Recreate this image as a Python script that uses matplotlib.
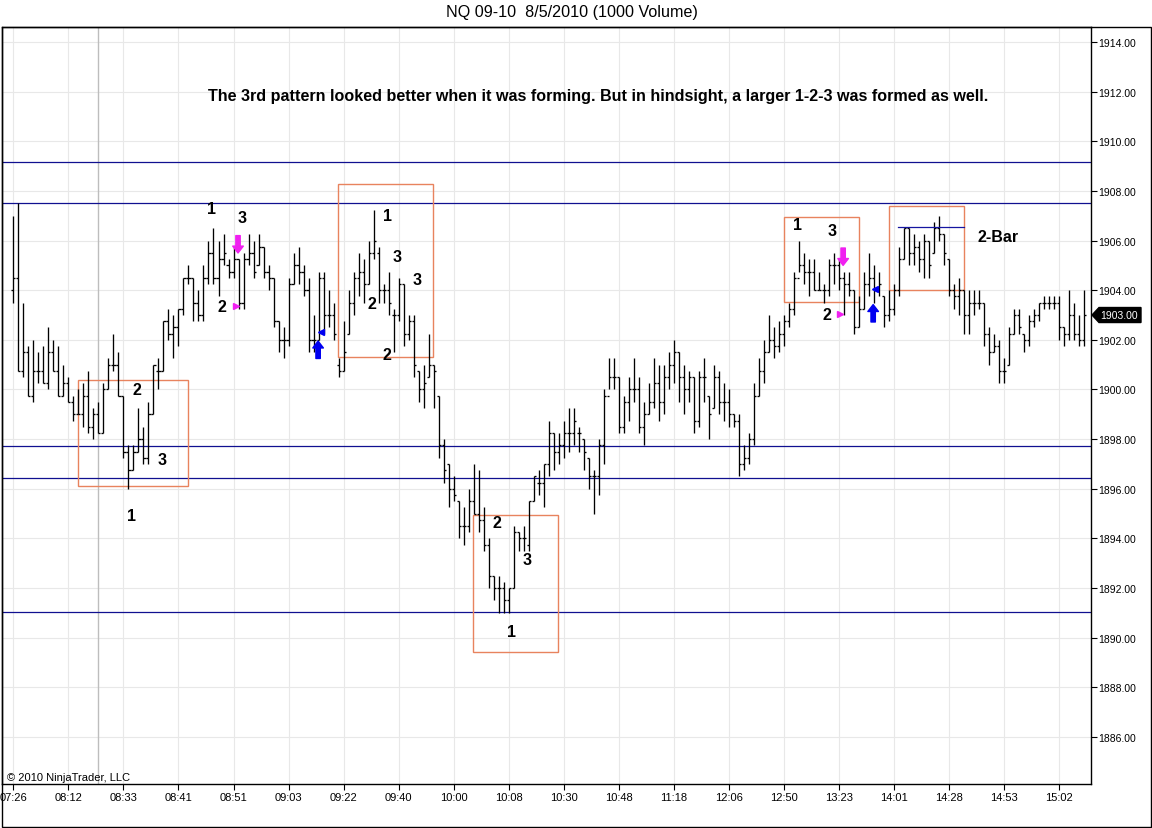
import matplotlib
matplotlib.use("Agg")
import matplotlib.pyplot as plt
from matplotlib.patches import Rectangle, Polygon

plt.rcParams['font.family'] = ['Liberation Sans', 'DejaVu Sans']

# ---------------- data ----------------
highs = [
    1907.0, 1907.5, 1903.5, 1901.75, 1902.0, 1901.5, 1901.75, 1902.5, 1902.0, 1901.75,
    1901.0, 1900.5, 1899.75, 1900.0, 1900.25, 1900.75, 1899.25, 1899.5, 1900.25, 1901.25,
    1902.25, 1901.5, 1899.75, 1897.75, 1897.75, 1899.25, 1898.5, 1899.5, 1901.0, 1901.25,
    1902.75, 1903.25, 1903.0, 1903.25, 1904.5, 1905.0, 1904.5, 1904.0, 1905.0, 1906.0,
    1906.5, 1906.0, 1906.25, 1905.25, 1905.75, 1905.25, 1905.5, 1906.25, 1906.0, 1906.25,
    1905.75, 1905.0, 1904.5, 1902.75, 1902.5, 1904.5, 1905.5, 1905.75, 1905.0, 1904.5,
    1903.0, 1904.75, 1904.75, 1904.0, 1903.5, 1901.25, 1902.75, 1904.0, 1904.75, 1905.5,
    1905.25, 1906.0, 1907.25, 1905.75, 1904.25, 1904.75, 1903.25, 1904.5, 1904.25, 1903.0,
    1903.0, 1900.75, 1901.0, 1902.25, 1901.0, 1899.75, 1898.0, 1897.0, 1896.5, 1895.5,
    1895.25, 1896.0, 1897.0, 1896.75, 1895.25, 1894.0, 1892.5, 1892.5, 1892.25, 1892.0,
    1894.5, 1894.25, 1894.5, 1895.5, 1896.5, 1896.75, 1897.0, 1898.75, 1898.25, 1898.25,
    1898.75, 1899.25, 1899.25, 1898.5, 1898.0, 1897.25, 1896.75, 1898.0, 1900.0, 1901.25,
    1901.25, 1900.5, 1899.75, 1900.5, 1901.25, 1900.5, 1899.5, 1900.25, 1901.25, 1901.0,
    1901.0, 1901.5, 1902.0, 1901.5, 1901.0, 1900.75, 1900.5, 1900.75, 1901.25, 1899.75,
    1901.0, 1900.75, 1900.25, 1900.0, 1899.0, 1899.0, 1897.75, 1898.25, 1900.25, 1901.25,
    1902.0, 1903.0, 1902.5, 1902.75, 1903.0, 1903.5, 1904.75, 1906.0, 1905.5, 1905.25,
    1905.25, 1904.75, 1904.25, 1905.25, 1905.5, 1905.25, 1904.75, 1904.75, 1904.0, 1903.75,
    1904.75, 1905.5, 1905.0, 1904.75, 1903.75, 1904.0, 1904.25, 1905.75, 1906.5, 1906.5,
    1906.25, 1906.0, 1906.25, 1906.0, 1906.75, 1907.0, 1906.25, 1905.25, 1904.25, 1904.5,
    1904.0, 1904.0, 1904.0, 1904.0, 1903.5, 1902.5, 1902.25, 1902.0, 1901.25, 1902.5,
    1903.25, 1903.25, 1902.25, 1903.0, 1903.25, 1903.5, 1903.75, 1903.75, 1903.75, 1903.75,
    1902.5, 1904.0, 1903.5, 1903.0, 1904.0,
]
lows = [
    1903.5, 1900.75, 1900.5, 1899.75, 1899.5, 1900.25, 1900.25, 1900.0, 1900.75, 1899.75,
    1899.75, 1899.5, 1898.75, 1899.0, 1898.5, 1898.25, 1898.0, 1898.25, 1898.25, 1900.0,
    1900.75, 1899.75, 1897.25, 1896.0, 1896.75, 1897.5, 1897.0, 1897.0, 1899.0, 1900.0,
    1900.75, 1902.0, 1901.25, 1901.75, 1903.0, 1904.25, 1902.75, 1902.75, 1902.75, 1904.25,
    1904.25, 1903.75, 1905.0, 1904.5, 1904.5, 1903.25, 1903.25, 1905.0, 1904.5, 1905.0,
    1904.5, 1904.0, 1902.5, 1901.5, 1901.25, 1901.75, 1904.25, 1904.25, 1903.75, 1901.5,
    1901.5, 1902.0, 1902.25, 1902.5, 1902.0, 1900.5, 1900.75, 1902.25, 1903.0, 1903.75,
    1903.5, 1904.25, 1905.25, 1903.5, 1903.5, 1903.0, 1901.5, 1902.75, 1901.75, 1902.0,
    1900.5, 1899.5, 1899.25, 1900.5, 1899.25, 1897.25, 1896.25, 1895.25, 1895.5, 1894.0,
    1893.75, 1894.25, 1895.0, 1894.25, 1893.5, 1892.0, 1891.5, 1891.0, 1891.0, 1891.0,
    1892.0, 1893.5, 1893.5, 1893.5, 1895.5, 1895.75, 1895.25, 1896.5, 1896.75, 1897.0,
    1897.25, 1897.5, 1897.75, 1897.5, 1896.75, 1896.0, 1895.0, 1895.75, 1897.0, 1900.0,
    1900.0, 1898.25, 1898.25, 1898.75, 1899.5, 1898.25, 1897.75, 1899.0, 1899.25, 1898.75,
    1899.0, 1900.0, 1900.25, 1899.5, 1899.0, 1899.5, 1898.25, 1898.5, 1899.5, 1898.0,
    1899.25, 1899.0, 1898.75, 1898.5, 1898.5, 1896.5, 1896.75, 1897.0, 1897.75, 1899.75,
    1900.25, 1901.5, 1901.25, 1901.5, 1901.75, 1902.5, 1903.0, 1904.75, 1904.25, 1903.75,
    1904.0, 1904.0, 1903.5, 1903.75, 1904.25, 1904.0, 1903.0, 1903.75, 1902.25, 1902.5,
    1903.25, 1903.75, 1903.5, 1903.75, 1902.5, 1902.75, 1903.0, 1903.75, 1905.25, 1905.0,
    1905.0, 1904.75, 1904.5, 1904.5, 1905.5, 1906.0, 1905.0, 1903.75, 1903.25, 1903.0,
    1902.25, 1902.25, 1903.0, 1903.25, 1901.75, 1901.0, 1901.5, 1900.25, 1900.25, 1901.0,
    1902.25, 1902.25, 1901.5, 1901.75, 1902.5, 1902.75, 1903.25, 1903.25, 1903.25, 1902.0,
    1901.75, 1902.0, 1902.0, 1901.75, 1901.75,
]
opens = [
    1904.0, 1904.5, 1900.75, 1901.5, 1899.75, 1900.75, 1900.75, 1900.25, 1901.5, 1900.75,
    1899.75, 1900.25, 1899.5, 1899.0, 1899.0, 1899.75, 1898.5, 1899.0, 1898.25, 1900.0,
    1901.0, 1901.0, 1899.75, 1897.5, 1896.75, 1897.5, 1898.0, 1897.25, 1899.0, 1900.75,
    1900.75, 1902.75, 1902.25, 1902.5, 1903.25, 1904.5, 1904.5, 1903.5, 1903.0, 1904.5,
    1905.5, 1904.5, 1905.25, 1905.0, 1904.75, 1905.25, 1903.5, 1905.25, 1905.5, 1905.0,
    1905.75, 1904.75, 1904.5, 1902.75, 1902.0, 1902.0, 1904.25, 1905.0, 1904.75, 1904.0,
    1902.0, 1902.0, 1904.5, 1903.0, 1903.0, 1901.0, 1900.75, 1902.25, 1903.5, 1904.5,
    1904.75, 1904.25, 1905.5, 1905.5, 1904.0, 1904.0, 1903.0, 1903.0, 1904.25, 1902.25,
    1902.75, 1900.75, 1900.0, 1900.5, 1901.0, 1899.75, 1897.75, 1897.0, 1896.0, 1895.5,
    1894.5, 1894.5, 1895.5, 1895.0, 1894.75, 1893.75, 1892.5, 1892.0, 1892.0, 1891.5,
    1892.0, 1894.25, 1894.0, 1893.75, 1895.5, 1896.25, 1896.25, 1897.0, 1898.25, 1897.5,
    1897.75, 1898.25, 1898.25, 1898.25, 1898.0, 1897.25, 1896.5, 1896.5, 1897.75, 1899.75,
    1900.5, 1900.5, 1898.5, 1899.5, 1900.0, 1900.0, 1898.5, 1899.0, 1899.5, 1900.25,
    1899.5, 1900.5, 1901.0, 1901.5, 1900.5, 1900.0, 1900.5, 1898.75, 1900.5, 1899.75,
    1899.25, 1900.5, 1899.5, 1899.5, 1899.0, 1898.75, 1897.0, 1897.25, 1898.0, 1899.75,
    1900.75, 1901.5, 1902.0, 1901.75, 1902.25, 1902.75, 1903.25, 1904.5, 1905.0, 1904.75,
    1904.75, 1904.0, 1904.0, 1904.0, 1905.0, 1905.0, 1904.5, 1904.25, 1904.0, 1902.5,
    1903.25, 1904.25, 1904.5, 1904.0, 1903.75, 1903.0, 1903.25, 1904.0, 1905.25, 1906.5,
    1905.5, 1905.75, 1905.25, 1906.0, 1905.5, 1906.5, 1906.25, 1905.25, 1904.0, 1903.75,
    1904.0, 1903.0, 1903.5, 1903.5, 1903.5, 1902.25, 1901.5, 1901.75, 1900.75, 1901.0,
    1902.25, 1903.0, 1902.25, 1902.0, 1902.75, 1903.0, 1903.5, 1903.5, 1903.5, 1903.5,
    1902.5, 1902.25, 1903.0, 1902.25, 1902.0,
]
closes = [
    1904.5, 1900.75, 1901.5, 1899.75, 1900.75, 1900.75, 1900.25, 1901.5, 1900.75, 1899.75,
    1900.25, 1899.5, 1899.0, 1899.0, 1899.75, 1898.5, 1899.0, 1898.25, 1900.0, 1901.0,
    1901.0, 1899.75, 1897.5, 1896.75, 1897.5, 1898.0, 1897.25, 1899.0, 1901.0, 1900.75,
    1902.75, 1902.25, 1902.5, 1903.25, 1904.5, 1904.5, 1903.5, 1903.0, 1904.5, 1905.5,
    1904.5, 1905.25, 1905.5, 1904.75, 1905.25, 1903.5, 1905.25, 1905.5, 1904.75, 1905.75,
    1904.75, 1904.5, 1902.75, 1902.0, 1902.0, 1904.25, 1905.0, 1904.75, 1904.0, 1902.0,
    1902.0, 1904.5, 1903.0, 1903.0, 1902.25, 1900.75, 1901.5, 1903.5, 1904.5, 1904.75,
    1904.25, 1905.5, 1906.0, 1904.0, 1904.0, 1903.5, 1903.0, 1904.25, 1902.25, 1902.75,
    1901.0, 1900.0, 1900.25, 1901.0, 1900.75, 1897.75, 1896.75, 1896.0, 1895.75, 1894.5,
    1894.5, 1895.5, 1895.0, 1894.75, 1893.75, 1892.5, 1892.0, 1892.0, 1891.5, 1892.0,
    1894.25, 1894.0, 1894.0, 1895.5, 1896.5, 1896.25, 1897.0, 1898.25, 1897.5, 1897.75,
    1898.25, 1898.25, 1898.75, 1898.25, 1897.5, 1896.5, 1896.5, 1897.75, 1899.75, 1900.5,
    1900.5, 1898.5, 1899.5, 1900.0, 1900.0, 1898.5, 1899.0, 1899.5, 1900.25, 1899.5,
    1900.5, 1901.0, 1901.5, 1900.5, 1900.0, 1900.5, 1898.75, 1900.5, 1900.5, 1899.0,
    1900.5, 1899.5, 1899.5, 1899.0, 1898.75, 1897.0, 1897.25, 1898.0, 1899.75, 1900.75,
    1901.5, 1902.0, 1901.75, 1902.25, 1902.75, 1903.25, 1904.5, 1905.0, 1904.75, 1904.75,
    1904.0, 1904.0, 1904.0, 1905.0, 1905.0, 1904.5, 1904.25, 1904.0, 1902.5, 1903.25,
    1904.25, 1904.5, 1904.0, 1904.25, 1903.0, 1903.25, 1904.0, 1905.25, 1906.5, 1905.5,
    1905.75, 1905.25, 1906.0, 1905.0, 1906.5, 1906.25, 1905.5, 1904.0, 1903.75, 1904.0,
    1903.0, 1903.5, 1903.5, 1903.5, 1902.25, 1901.5, 1901.75, 1900.75, 1900.75, 1902.25,
    1903.0, 1902.5, 1902.0, 1902.75, 1903.0, 1903.5, 1903.5, 1903.5, 1903.5, 1902.5,
    1902.25, 1903.0, 1902.25, 1902.0, 1903.0,
]
time_labels = ["07:26", "08:12", "08:33", "08:41", "08:51", "09:03", "09:22", "09:40",
               "10:00", "10:08", "10:30", "10:48", "11:18", "12:06", "12:50", "13:23",
               "14:01", "14:28", "14:53", "15:02"]
price_ticks = [1886, 1888, 1890, 1892, 1894, 1896, 1898, 1900, 1902, 1904,
               1906, 1908, 1910, 1912, 1914]
level_lines = [1909.17, 1907.5, 1897.71, 1896.42, 1891.02]
last_price = 1903.00

# pattern boxes: (first bar, last bar, top price, bottom price)
boxes = [(13.0, 34.9, 1900.38, 1896.11),
         (64.9, 83.9, 1908.28, 1901.31),
         (91.9, 108.9, 1894.94, 1889.42),
         (153.9, 169.0, 1906.95, 1903.53),
         (174.9, 189.9, 1907.39, 1904.0)]
twobar_level = (176.8, 190.0, 1906.53)

# pattern point labels: (bar position, price, text)
point_labels = [(39.7, 1907.31, "1"), (45.7, 1906.91, "3"), (41.7, 1903.36, "2"),
                (24.7, 1900.02, "2"), (29.7, 1897.16, "3"), (23.7, 1894.94, "1"),
                (74.7, 1907.03, "1"), (76.7, 1905.34, "3"), (80.7, 1904.45, "3"),
                (71.7, 1903.48, "2"), (74.7, 1901.39, "2"),
                (96.6, 1894.66, "2"), (102.6, 1893.17, "3"), (99.6, 1890.27, "1"),
                (156.6, 1906.63, "1"), (163.6, 1906.39, "3"), (162.6, 1903.04, "2")]

# ---------------- figure ----------------
W, H = 1152, 829
fig = plt.figure(figsize=(W / 100, H / 100), dpi=100)
fig.patch.set_facecolor("white")

px_left, px_right, px_top, px_bottom = 1.5, 1090.7, 27.5, 785.0
ax = fig.add_axes([px_left / W, 1 - px_bottom / H,
                   (px_right - px_left) / W, (px_bottom - px_top) / H])

bar_px = 5.005
x0_px = 13.3
ax.set_xlim((px_left - x0_px) / bar_px, (px_right - x0_px) / bar_px)
ppp = 24.82  # pixels per point
ax.set_ylim(1886 - (px_bottom - 738) / ppp, 1914 + (43 - px_top) / ppp)

n = len(highs)
xs = list(range(n))
label_pos = list(range(0, 11 * len(time_labels), 11))

# grid
for p in price_ticks:
    ax.axhline(p, color="#E8E8E8", lw=0.8, zorder=0)
for xp in label_pos:
    ax.axvline(xp, color="#E8E8E8", lw=0.8, zorder=0)
ax.axvline(17, color="#BDBDBD", lw=1.0, zorder=0.5)

# level lines
for lv in level_lines:
    ax.axhline(lv, color="#101090", lw=0.9, zorder=1)

# boxes
for (b0, b1, top, bot) in boxes:
    ax.add_patch(Rectangle((b0, bot), b1 - b0, top - bot, fill=False,
                           edgecolor="#E8835E", lw=1.0, zorder=1.5))

# OHLC bars
tick = 0.42
ax.vlines(xs, lows, highs, color="black", lw=0.95, zorder=3)
ax.hlines(opens, [x - tick for x in xs], xs, color="black", lw=0.95, zorder=3)
ax.hlines(closes, xs, [x + tick for x in xs], color="black", lw=0.95, zorder=3)

ax.plot([twobar_level[0], twobar_level[1]], [twobar_level[2], twobar_level[2]],
        color="#1515A0", lw=0.9, zorder=4)

# labels
for (bx, py, t) in point_labels:
    ax.text(bx, py, t, fontsize=11.5, fontweight="bold", ha="center", va="center",
            color="black", zorder=5)
ax.text(192.6, 1906.18, "2-Bar", fontsize=11.5, fontweight="bold", ha="left",
        va="center", zorder=5)
ax.text(116.8, 1911.86,
        "The 3rd pattern looked better when it was forming. But in hindsight, a larger 1-2-3 was formed as well.",
        fontsize=11.6, fontweight="bold", ha="center", va="center", zorder=5)

# arrows and markers
def arrow(x, tail, tip, color):
    ax.annotate("", xy=(x, tip), xytext=(x, tail),
                arrowprops=dict(arrowstyle="simple,head_length=0.55,head_width=0.85,tail_width=0.35",
                                color=color, shrinkA=0, shrinkB=0, mutation_scale=9),
                zorder=6)

arrow(44.9, 1906.2, 1905.5, "#F020F0")
arrow(165.8, 1905.7, 1905.0, "#F020F0")
arrow(60.9, 1901.25, 1901.95, "#0000F0")
arrow(171.8, 1902.72, 1903.42, "#0000F0")
ax.plot([44.5, 165.2], [1903.36, 1903.04], linestyle="none", marker=">",
        markersize=4.5, color="#F020F0", zorder=6)
ax.plot([61.5, 172.2], [1902.32, 1904.05], linestyle="none", marker="<",
        markersize=4.5, color="#0000F0", zorder=6)

# axes styling
for s in ax.spines.values():
    s.set_color("black")
    s.set_linewidth(1.0)
ax.yaxis.tick_right()
ax.set_yticks(price_ticks)
ax.set_yticklabels([f"{p:.2f}" for p in price_ticks])
ax.tick_params(axis="y", direction="out", length=4.5, width=0.8, pad=1,
               labelsize=7.5, colors="black")
ax.set_xticks(label_pos)
ax.set_xticklabels(time_labels)
ax.tick_params(axis="x", direction="out", length=4, width=0.8, pad=2,
               labelsize=8, colors="black")

# current price marker
yb = px_top + (1914 + (43 - px_top) / ppp - last_price) * ppp
pts = [(1092, yb), (1099, yb - 7.5), (1141, yb - 7.5), (1141, yb + 7.5), (1099, yb + 7.5)]
fig.add_artist(Polygon([(x / W, 1 - y / H) for x, y in pts], closed=True,
                       facecolor="black", edgecolor="black", transform=fig.transFigure))
fig.text(1119 / W, 1 - yb / H, f"{last_price:.2f}", color="white", fontsize=7.5,
         ha="center", va="center")

# title, copyright and outer frame
fig.text(572 / W, 1 - 13 / H, "NQ 09-10  8/5/2010 (1000 Volume)", fontsize=11.6,
         ha="center", va="center")
fig.text(7 / W, 1 - 778.5 / H, "\u00a9 2010 NinjaTrader, LLC", fontsize=8,
         ha="left", va="center")
fig.add_artist(Rectangle((1.5 / W, 1 - 828 / H), (1150.5 - 1.5) / W, (828 - 27.5) / H,
                         fill=False, edgecolor="black", lw=1.0, transform=fig.transFigure))

fig.savefig("out.png", dpi=100)
